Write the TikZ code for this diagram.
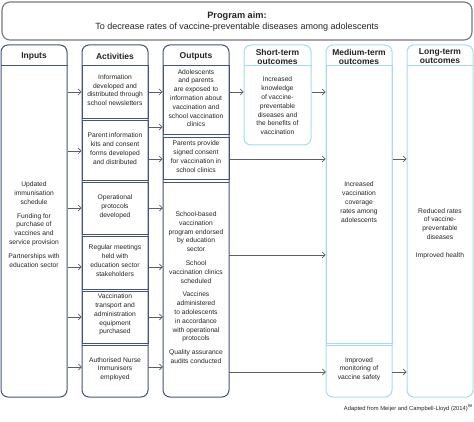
\documentclass[tikz,border=0pt]{standalone}
\usepackage{fontspec}
\setmainfont{Liberation Sans}
\usetikzlibrary{arrows.meta,fit}
\definecolor{navy}{RGB}{70,82,122}
\definecolor{lcyan}{RGB}{165,220,234}
\definecolor{aimgray}{RGB}{120,120,120}
\definecolor{arrgray}{RGB}{95,95,95}
\definecolor{txtc}{RGB}{35,35,35}
\begin{document}
\begin{tikzpicture}[x=1pt,y=-1pt,
  navycol/.style={draw=navy, line width=1pt, rounded corners=7pt, inner sep=0pt},
  cyancol/.style={draw=lcyan, line width=1pt, rounded corners=7pt, inner sep=0pt},
  navybox/.style={draw=navy, line width=1pt, inner sep=0pt},
  cyanbox/.style={draw=lcyan, line width=1pt, inner sep=0pt},
  plainbox/.style={inner sep=0pt},
  navyline/.style={draw=navy, line width=1pt},
  cyanline/.style={draw=lcyan, line width=1pt},
  hdr/.style={font=\fontsize{8.5}{9}\selectfont\bfseries, align=center, text=txtc, inner sep=0pt},
  txt/.style={font=\fontsize{6.7}{8.8}\selectfont, align=center, text=txtc},
  arr/.style={draw=arrgray, line width=0.7pt, -{Straight Barb[length=3pt,width=6pt]}},
  plainline/.style={draw=arrgray, line width=0.7pt}]

\useasboundingbox (0,0) rectangle (474,422);

% program aim
\node[draw=aimgray, line width=1.1pt, rounded corners=8pt, inner sep=0pt, fit={(2,2)(472,40)}] (aim) {};
\node[font=\fontsize{9.2}{11}\selectfont\bfseries, text=txtc, inner sep=0pt] (aimh) at (237,16) {Program aim:};
\node[font=\fontsize{9}{11}\selectfont, text=txtc, inner sep=0pt] (aimt) at (237,27) {To decrease rates of vaccine-preventable diseases among adolescents};

% columns
\node[navycol, fit={(1,45)(67,397)}] (inputs) {};
\node[navycol, fit={(82,45)(148,397)}] (act) {};
\node[navycol, fit={(163,45)(229,397)}] (out) {};
\node[cyancol, fit={(244,45)(311,145)}] (st) {};
\node[cyancol, fit={(326,45)(392,397)}] (med) {};
\node[cyancol, fit={(407,45)(473,397)}] (lt) {};

% header dividers
\draw[navyline] (inputs.west |- 0,66) -- (inputs.east |- 0,66);
\draw[navyline] (act.west |- 0,66) -- (act.east |- 0,66);
\draw[navyline] (out.west |- 0,66) -- (out.east |- 0,66);
\draw[cyanline] (st.west |- 0,66) -- (st.east |- 0,66);
\draw[cyanline] (med.west |- 0,66) -- (med.east |- 0,66);
\draw[cyanline] (lt.west |- 0,66) -- (lt.east |- 0,66);

% headers
\node[hdr] (inputs-h) at (34,56.5) {Inputs};
\node[hdr] (act-h) at (115,56.5) {Activities};
\node[hdr] (out-h) at (196,56.5) {Outputs};
\node[hdr] (st-h) at (277.5,56.5) {Short-term\\outcomes};
\node[hdr] (med-h) at (359,56.5) {Medium-term\\outcomes};
\node[hdr] (lt-h) at (440,56.5) {Long-term\\outcomes};

% inputs
\node[txt] (inputs-t) at (34,224.5) {Updated\\immunisation\\schedule\\[5pt]Funding for\\purchase of\\vaccines and\\service provision\\[5pt]Partnerships with\\education sector};

% activities
\node[navybox, txt, fit={(82,66)(148,119)}] (a1) {Information\\developed and\\distributed through\\school newsletters};
\node[navybox, txt, fit={(82,121)(148,181)}] (a2) {Parent information\\kits and consent\\forms developed\\and distributed};
\node[navybox, txt, fit={(82,183)(148,235)}] (a3) {Operational\\protocols\\developed};
\node[navybox, txt, fit={(82,237)(148,289)}] (a4) {Regular meetings\\held with\\education sector\\stakeholders};
\node[navybox, txt, fit={(82,291)(148,343)}] (a5) {Vaccination\\transport and\\administration\\equipment\\purchased};
\node[plainbox, txt, fit={(82,346)(148,397)}] (a6) {Authorised Nurse\\Immunisers\\employed};
\draw[navyline] (a6.north west) -- (a6.north east);

% outputs
\node[navybox, txt, fit={(163,66)(229,135)}] (o1) {Adolescents\\and parents\\are exposed to\\information about\\vaccination and\\school vaccination\\clinics};
\node[navybox, txt, fit={(163,138)(229,180)}] (o2) {Parents provide\\signed consent\\for vaccination in\\school clinics};
\node[plainbox, txt, fit={(163,183)(229,397)}] (o3) {School-based\\vaccination\\program endorsed\\by education\\sector\\[5pt]School\\vaccination clinics\\scheduled\\[5pt]Vaccines\\administered\\to adolescents\\in accordance\\with operational\\protocols\\[5pt]Quality assurance\\audits conducted};
\draw[navyline] (o3.north west) -- (o3.north east);

% short-term
\node[txt] (st-t) at (277.5,106) {Increased\\knowledge\\of vaccine-\\preventable\\diseases and\\the benefits of\\vaccination};

% medium-term
\node[cyanbox, txt, fit={(326,66)(392,343)}] (m1) {Increased\\vaccination\\coverage\\rates among\\adolescents};
\node[plainbox, txt, fit={(326,346)(392,397)}] (m2) {Improved\\monitoring of\\vaccine safety};
\draw[cyanline] (m2.north west) -- (m2.north east);

% long-term
\node[txt] (lt-t) at (440,233.5) {Reduced rates\\of vaccine-\\preventable\\diseases\\[9pt]Improved health};

% arrows inputs -> activities
\draw[arr] (inputs.east |- 0,92) -- (a1.west |- 0,92);
\draw[arr] (inputs.east |- 0,151) -- (a2.west |- 0,151);
\draw[arr] (inputs.east |- 0,208) -- (a3.west |- 0,208);
\draw[arr] (inputs.east |- 0,267) -- (a4.west |- 0,267);
\draw[arr] (inputs.east |- 0,317) -- (a5.west |- 0,317);
\draw[arr] (inputs.east |- 0,367) -- (a6.west |- 0,367);

% activities -> outputs
\draw[arr] (a1.east |- 0,92) -- (o1.west |- 0,92);
\draw[arr] (a2.east |- 0,127) -- (o1.west |- 0,127);
\draw[arr] (a2.east |- 0,159) -- (o2.west |- 0,159);
\draw[arr] (a3.east |- 0,208) -- (o3.west |- 0,208);
\draw[arr] (a4.east |- 0,267) -- (o3.west |- 0,267);
\draw[arr] (a5.east |- 0,317) -- (o3.west |- 0,317);
\draw[arr] (a6.east |- 0,367) -- (o3.west |- 0,367);

% outputs -> outcomes
\draw[arr] (o1.east |- 0,92) -- (st.west |- 0,92);
\draw[arr] (o2.east |- 0,159) -- (m1.west |- 0,159);
\draw[arr] (o3.east |- 0,255) -- (m1.west |- 0,255);
\draw[arr] (o3.east |- 0,372) -- (m2.west |- 0,372);
\draw[arr] (st.east |- 0,92) -- (m1.west |- 0,92);
\draw[arr] (m1.east |- 0,159) -- (lt.west |- 0,159);
\draw[arr] (m2.east |- 0,372) -- (lt.west |- 0,372);

% source
\node[font=\fontsize{5.8}{7}\selectfont, text=txtc, anchor=east, inner sep=0pt] (src) at (473,408) {Adapted from Meijer and Campbell-Lloyd (2014)\textsuperscript{88}};
\end{tikzpicture}
\end{document}
